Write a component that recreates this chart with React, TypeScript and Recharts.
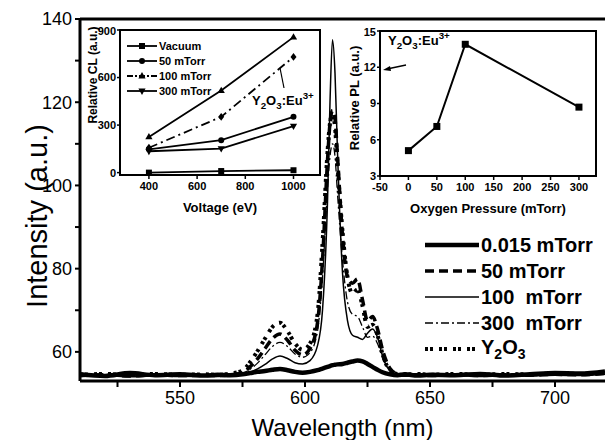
import React from 'react'
import { LineChart, Line, XAxis, YAxis, Legend, ReferenceLine, ReferenceArea, Label, Customized } from 'recharts'

const FONT = '"Liberation Sans", Arial, Helvetica, sans-serif'

// main PL spectra
const wavelengths = [510, 520, 530, 540, 550, 560, 565, 570, 575, 578, 581, 584, 587, 590, 593, 596, 599, 602, 605, 607, 609, 610, 611, 612, 613, 615, 617, 619, 621, 623, 625, 627, 629, 631, 634, 637, 640, 645, 650, 660, 670, 680, 690, 700, 710, 720]
const p015 = [54.6, 54.2, 54.9, 54.4, 54.6, 54.3, 54.5, 54.4, 54.6, 54.9, 55.2, 55.4, 55.7, 55.9, 55.6, 55.2, 55.0, 55.2, 55.6, 56.0, 56.4, 56.6, 56.8, 56.9, 57.0, 57.1, 57.4, 57.7, 57.9, 57.7, 57.1, 56.4, 55.7, 55.1, 54.6, 54.4, 54.6, 54.3, 54.5, 54.4, 54.7, 54.3, 54.6, 54.9, 54.8, 55.3]
const p50 = [54.3, 54.5, 54.2, 54.5, 54.3, 54.4, 54.3, 54.5, 55.0, 56.4, 58.3, 60.8, 63.2, 64.3, 62.8, 60.4, 59.3, 60.8, 67, 82, 106, 115, 118, 116, 107, 88, 78, 76.5, 77.5, 72.5, 67.5, 68.5, 65.5, 60.5, 56, 54.7, 54.4, 54.5, 54.3, 54.5, 54.3, 54.5, 54.4, 54.6, 54.5, 54.8]
const p100 = [54.1, 54.3, 54.0, 54.2, 54.1, 54.2, 54.1, 54.3, 54.6, 55.1, 55.9, 57.0, 58.3, 59.0, 58.4, 57.4, 57.1, 57.9, 61.5, 70, 96, 120, 135, 127, 108, 79, 67.5, 64, 63.5, 63, 64.5, 65.5, 63.5, 59, 55.4, 54.4, 54.2, 54.3, 54.1, 54.3, 54.1, 54.3, 54.2, 54.4, 54.3, 54.6]
const p300 = [54.4, 54.6, 54.3, 54.6, 54.4, 54.5, 54.4, 54.6, 54.9, 55.8, 57.3, 59.3, 61.3, 62.3, 61.3, 59.5, 58.7, 59.8, 65, 78, 99, 107, 110, 107, 98, 82, 72, 69, 68.5, 66, 63.5, 63.8, 62, 58.5, 55.4, 54.6, 54.5, 54.6, 54.4, 54.6, 54.4, 54.6, 54.5, 54.7, 54.6, 54.9]
const pY2O3 = [54.5, 54.7, 54.4, 54.7, 54.5, 54.6, 54.5, 54.8, 55.5, 57.5, 60.2, 63.2, 66, 67, 65, 62, 60.5, 62, 69, 86, 108, 115, 117, 114, 105, 89, 78, 74, 75, 71, 66, 66.5, 64, 59.5, 55.5, 54.7, 54.6, 54.7, 54.5, 54.7, 54.5, 54.7, 54.6, 54.8, 54.7, 55.0]
const wlTicks = [525, 550, 575, 600, 625, 650, 675, 700]
const intensityTicks = [60, 70, 80, 90, 100, 110, 120, 130, 140]

// inset 1: CL vs voltage
const voltages = [400, 700, 1000]
const clVacuum = [0, 10, 15]
const cl50 = [147, 205, 352]
const cl100 = [225, 518, 855]
const clEu = [157, 352, 730]
const cl300 = [135, 152, 294]
const voltageTicks = [400, 600, 800, 1000]
const clTicks = [0, 300, 600, 900]

// inset 2: PL vs oxygen pressure
const pressures = [0, 50, 100, 300]
const plValues = [5.1, 7.1, 13.9, 8.7]
const pressureTicks = [-50, 0, 50, 100, 150, 200, 250, 300]
const plTicks = [3, 6, 9, 12, 15]

const spectrumData = wavelengths.map((wl, i) => ({
  wl,
  p015: p015[i],
  p50: p50[i],
  p100: p100[i],
  p300: p300[i],
  y2o3: pY2O3[i],
}))

const clData = voltages.map((v, i) => ({
  v,
  vac: clVacuum[i],
  m50: cl50[i],
  m100: cl100[i],
  eu: clEu[i],
  m300: cl300[i],
}))

const plData = pressures.map((p, i) => ({ p, pl: plValues[i] }))

const spectrumStyles = [
  { key: 'p015', label: '0.015 mTorr', width: 4.5, dash: undefined as string | undefined },
  { key: 'p50', label: '50 mTorr', width: 3.5, dash: '9 5' },
  { key: 'p100', label: '100  mTorr', width: 1.5, dash: undefined },
  { key: 'p300', label: '300  mTorr', width: 1.3, dash: '8 3 2 3' },
  { key: 'y2o3', label: 'Y2O3', width: 4, dash: '3 2 3 6' },
]

const Marker = ({ cx, cy, shape, size = 3.5 }: { cx?: number; cy?: number; shape: string; size?: number }) => {
  if (cx == null || cy == null) return <g />
  if (shape === 'square') return <rect x={cx - size} y={cy - size} width={size * 2} height={size * 2} fill="#000" />
  if (shape === 'circle') return <circle cx={cx} cy={cy} r={size} fill="#000" />
  if (shape === 'triangle')
    return <polygon points={`${cx},${cy - size * 1.3} ${cx - size * 1.2},${cy + size * 0.8} ${cx + size * 1.2},${cy + size * 0.8}`} fill="#000" />
  if (shape === 'down')
    return <polygon points={`${cx},${cy + size * 1.3} ${cx - size * 1.2},${cy - size * 0.8} ${cx + size * 1.2},${cy - size * 0.8}`} fill="#000" />
  return <polygon points={`${cx},${cy - size * 1.3} ${cx + size},${cy} ${cx},${cy + size * 1.3} ${cx - size},${cy}`} fill="#000" />
}

const dotOf = (shape: string, size?: number) => (p: any) => (
  <Marker key={`${shape}-${p.index}`} cx={p.cx} cy={p.cy} shape={shape} size={size} />
)

const EuText = ({ x, y, size }: { x: number; y: number; size: number }) => (
  <text x={x} y={y} fontSize={size} fontWeight="bold" fontFamily={FONT} fill="#000">
    Y
    <tspan dy={4} fontSize={size * 0.75}>2</tspan>
    <tspan dy={-4}>O</tspan>
    <tspan dy={4} fontSize={size * 0.75}>3</tspan>
    <tspan dy={-4}>:Eu</tspan>
    <tspan dy={-6} fontSize={size * 0.75}>3+</tspan>
  </text>
)

const MainLegend = () => (
  <div style={{ fontFamily: FONT, fontWeight: 'bold', fontSize: 20, color: '#000' }}>
    {spectrumStyles.map((s) => (
      <div key={s.key} style={{ display: 'flex', alignItems: 'center', height: 26 }}>
        <svg width={54} height={10}>
          <line x1={0} x2={54} y1={5} y2={5} stroke="#000" strokeWidth={s.width} strokeDasharray={s.dash} />
        </svg>
        <span style={{ marginLeft: 2, whiteSpace: 'pre' }}>
          {s.key === 'y2o3' ? (
            <>
              Y<sub style={{ fontSize: 14 }}>2</sub>O<sub style={{ fontSize: 14 }}>3</sub>
            </>
          ) : (
            s.label
          )}
        </span>
      </div>
    ))}
  </div>
)

const clLegendItems = [
  { label: 'Vacuum', shape: 'square', dash: undefined as string | undefined },
  { label: '50 mTorr', shape: 'circle', dash: undefined },
  { label: '100 mTorr', shape: 'triangle', dash: '6 2 2 2' },
  { label: '300 mTorr', shape: 'down', dash: undefined },
]

const ClLegend = () => (
  <div style={{ fontFamily: FONT, fontWeight: 'bold', fontSize: 11, color: '#000' }}>
    {clLegendItems.map((s) => (
      <div key={s.label} style={{ display: 'flex', alignItems: 'center', height: 15 }}>
        <svg width={30} height={10}>
          <line x1={0} x2={30} y1={5} y2={5} stroke="#000" strokeWidth={1.8} strokeDasharray={s.dash} />
          <Marker cx={15} cy={5} shape={s.shape} size={3} />
        </svg>
        <span style={{ marginLeft: 2 }}>{s.label}</span>
      </div>
    ))}
  </div>
)

const insetTick = { fontSize: 11, fontWeight: 'bold', fill: '#000', fontFamily: FONT }

export default function App() {
  return (
    <div style={{ position: 'absolute', left: 0, top: 0, width: 605, height: 440, background: '#fff', fontFamily: FONT }}>
      <LineChart width={605} height={440} data={spectrumData} margin={{ top: 19, right: 0, left: 0, bottom: 0 }}>
        <XAxis
          dataKey="wl"
          type="number"
          domain={[510, 720]}
          allowDataOverflow
          ticks={wlTicks}
          tickFormatter={(v: number) => (v % 50 === 0 ? String(v) : '')}
          height={59}
          tickSize={6}
          tickMargin={4}
          axisLine={{ stroke: '#000', strokeWidth: 3 }}
          tickLine={{ stroke: '#000', strokeWidth: 2 }}
          tick={{ fontSize: 18, fill: '#000', fontFamily: FONT }}
        >
          <Label value="Wavelength (nm)" position="insideBottom" offset={4} style={{ fontSize: 24, fill: '#000', fontFamily: FONT }} />
        </XAxis>
        <YAxis
          type="number"
          domain={[53, 140]}
          allowDataOverflow
          ticks={intensityTicks}
          tickFormatter={(v: number) => (v % 20 === 0 ? String(v) : '')}
          width={80}
          tickSize={5}
          tickMargin={3}
          axisLine={{ stroke: '#000', strokeWidth: 3 }}
          tickLine={{ stroke: '#000', strokeWidth: 2 }}
          tick={{ fontSize: 18, fill: '#000', fontFamily: FONT }}
        >
          <Label
            content={() => (
              <text x={47} y={216} transform="rotate(-90 47 216)" textAnchor="middle" fontSize={29} fontFamily={FONT} fill="#000">
                Intensity (a.u.)
              </text>
            )}
          />
        </YAxis>
        <ReferenceLine y={140} stroke="#000" strokeWidth={3} />
        {spectrumStyles.map((s) => (
          <Line
            key={s.key}
            dataKey={s.key}
            type="monotone"
            stroke="#000"
            strokeWidth={s.width}
            strokeDasharray={s.dash}
            dot={false}
            isAnimationActive={false}
          />
        ))}
        <Legend
          layout="vertical"
          align="center"
          verticalAlign="middle"
          wrapperStyle={{ left: 425, top: 232, width: 180 }}
          content={() => <MainLegend />}
        />
      </LineChart>

      <div style={{ position: 'absolute', left: 85, top: 25, width: 245, height: 190 }}>
        <LineChart width={245} height={190} data={clData} margin={{ top: 5, right: 10, left: 0, bottom: 0 }}>
          <XAxis
            dataKey="v"
            type="number"
            domain={[280, 1110]}
            ticks={voltageTicks}
            height={40}
            tickSize={4}
            tickMargin={3}
            axisLine={{ stroke: '#000', strokeWidth: 2 }}
            tickLine={{ stroke: '#000', strokeWidth: 1.5 }}
            tick={insetTick}
          >
            <Label value="Voltage (eV)" position="insideBottom" offset={3} style={{ fontSize: 13, fontWeight: 'bold', fill: '#000', fontFamily: FONT }} />
          </XAxis>
          <YAxis
            type="number"
            domain={[-15, 900]}
            ticks={clTicks}
            width={35}
            tickSize={3}
            tickMargin={1}
            axisLine={{ stroke: '#000', strokeWidth: 2 }}
            tickLine={{ stroke: '#000', strokeWidth: 1.5 }}
            tick={insetTick}
          >
            <Label
              content={() => (
                <text x={8} y={50} transform="rotate(-90 8 50)" textAnchor="middle" dominantBaseline="central" fontSize={12} fontWeight="bold" fontFamily={FONT} fill="#000">
                  Relative CL (a.u.)
                </text>
              )}
            />
          </YAxis>
          <ReferenceArea x1={280} x2={1110} y1={-15} y2={900} fill="none" stroke="#000" strokeWidth={2} ifOverflow="visible" />
          <Line dataKey="vac" stroke="#000" strokeWidth={1.8} dot={dotOf('square', 3)} isAnimationActive={false} />
          <Line dataKey="m50" stroke="#000" strokeWidth={1.8} dot={dotOf('circle', 3)} isAnimationActive={false} />
          <Line dataKey="m100" stroke="#000" strokeWidth={1.8} dot={dotOf('triangle', 3)} isAnimationActive={false} />
          <Line dataKey="eu" stroke="#000" strokeWidth={1.8} strokeDasharray="9 4 2 4" dot={dotOf('diamond', 3)} isAnimationActive={false} />
          <Line dataKey="m300" stroke="#000" strokeWidth={1.8} dot={dotOf('down', 3)} isAnimationActive={false} />
          <Customized
            component={() => (
              <g>
                <line x1={195} y1={43} x2={199} y2={63} stroke="#000" strokeWidth={1.2} />
                <EuText x={167} y={80} size={13} />
              </g>
            )}
          />
          <Legend
            layout="vertical"
            align="center"
            verticalAlign="middle"
            wrapperStyle={{ left: 42, top: 13, width: 110 }}
            content={() => <ClLegend />}
          />
        </LineChart>
      </div>

      <div style={{ position: 'absolute', left: 340, top: 26, width: 265, height: 190 }}>
        <LineChart width={265} height={190} data={plData} margin={{ top: 5, right: 9, left: 0, bottom: 0 }}>
          <XAxis
            dataKey="p"
            type="number"
            domain={[-50, 330]}
            ticks={pressureTicks}
            height={40}
            tickSize={4}
            tickMargin={3}
            axisLine={{ stroke: '#000', strokeWidth: 2 }}
            tickLine={{ stroke: '#000', strokeWidth: 1.5 }}
            tick={insetTick}
            interval={0}
          >
            <Label value="Oxygen Pressure (mTorr)" position="insideBottom" offset={3} style={{ fontSize: 13, fontWeight: 'bold', fill: '#000', fontFamily: FONT }} />
          </XAxis>
          <YAxis
            type="number"
            domain={[3, 15]}
            ticks={plTicks}
            width={40}
            tickSize={3}
            tickMargin={1}
            axisLine={{ stroke: '#000', strokeWidth: 2 }}
            tickLine={{ stroke: '#000', strokeWidth: 1.5 }}
            tick={insetTick}
          >
            <Label
              content={() => (
                <text x={14} y={72} transform="rotate(-90 14 72)" textAnchor="middle" dominantBaseline="central" fontSize={13} fontWeight="bold" fontFamily={FONT} fill="#000">
                  Relative PL (a.u.)
                </text>
              )}
            />
          </YAxis>
          <ReferenceArea x1={-50} x2={330} y1={3} y2={15} fill="none" stroke="#000" strokeWidth={2} ifOverflow="visible" />
          <Line dataKey="pl" stroke="#000" strokeWidth={2} dot={dotOf('square', 3.5)} isAnimationActive={false} />
          <Customized
            component={() => (
              <g>
                <line x1={66} y1={39} x2={47} y2={43} stroke="#000" strokeWidth={1.5} />
                <polygon points="43,44 50,40 51,45" fill="#000" />
                <EuText x={48} y={19} size={13} />
              </g>
            )}
          />
        </LineChart>
      </div>
    </div>
  )
}
